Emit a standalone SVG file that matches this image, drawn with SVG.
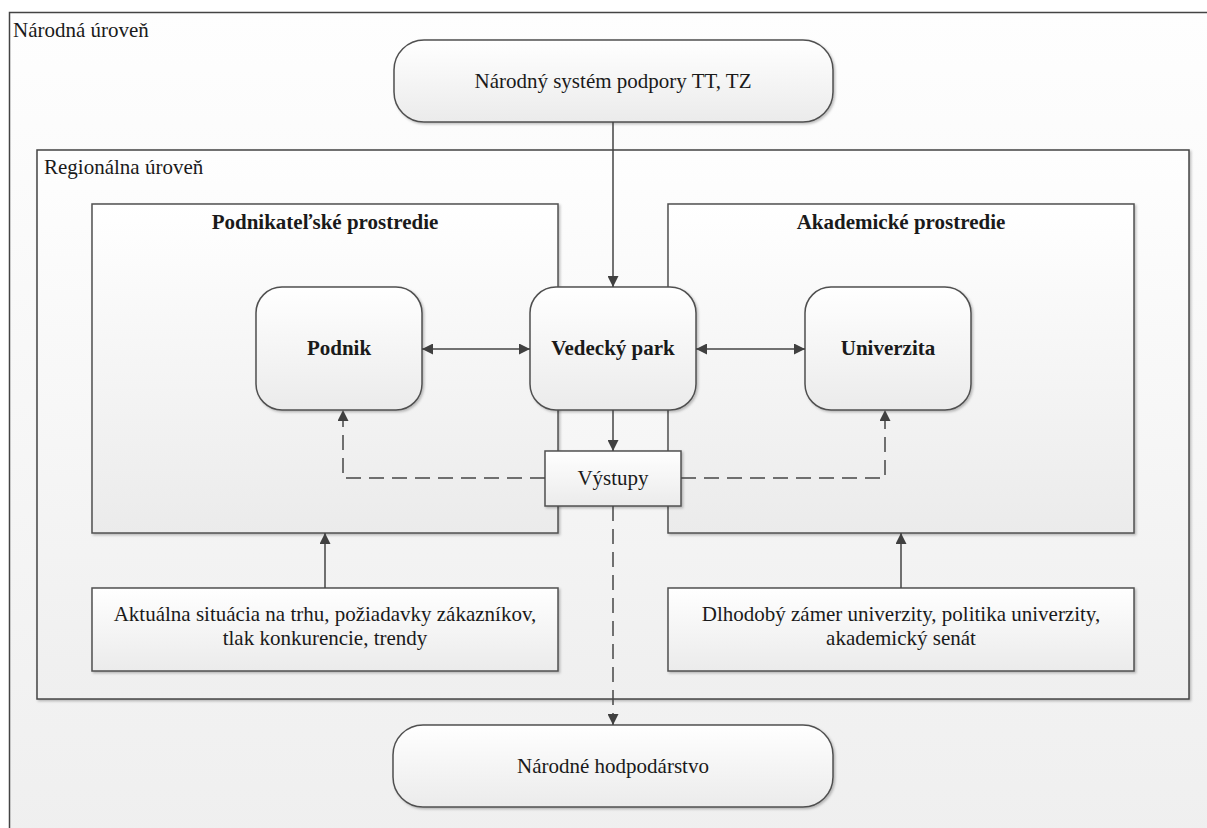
<svg xmlns="http://www.w3.org/2000/svg" width="1207" height="828" viewBox="0 0 1207 828">
  <defs>
    <linearGradient id="fillBox" x1="0" y1="0" x2="0" y2="1">
      <stop offset="0" stop-color="#ffffff"/>
      <stop offset="1" stop-color="#ebebeb"/>
    </linearGradient>
    <linearGradient id="fillArea" x1="0" y1="0" x2="0" y2="1">
      <stop offset="0" stop-color="#fefefe"/>
      <stop offset="1" stop-color="#efefef"/>
    </linearGradient>
    <filter id="shadow" x="-5%" y="-5%" width="110%" height="115%">
      <feDropShadow dx="1.5" dy="1.5" stdDeviation="1" flood-color="#000" flood-opacity="0.25"/>
    </filter>
    <marker id="arrow" viewBox="0 0 10 10" refX="10" refY="5" markerWidth="11" markerHeight="11" markerUnits="userSpaceOnUse" orient="auto-start-reverse">
      <path d="M0,0 L10,5 L0,10 z" fill="#404040"/>
    </marker>
  </defs>
  <style>
    .frame { fill: url(#fillArea); stroke: #444; stroke-width: 1.5; }
    .box { fill: url(#fillBox); stroke: #505050; stroke-width: 1.5; filter: url(#shadow); }
    .label { font-family: "Liberation Serif", "Times New Roman", serif; font-size: 21px; fill: #1a1a1a; }
    .bold { font-weight: bold; }
    .mid { text-anchor: middle; }
    .link { fill: none; stroke: #454545; stroke-width: 1.5; }
    .dash { stroke-dasharray: 15 8; }
  </style>

  <rect width="1207" height="828" fill="#ffffff"/>

  <!-- national level frame -->
  <g id="national">
    <rect class="frame" x="9.5" y="12.5" width="1215" height="830"/>
    <text class="label" x="13" y="37">Národná úroveň</text>
  </g>

  <!-- regional level frame -->
  <g id="regional">
    <rect class="frame" x="37" y="150" width="1152" height="549" filter="url(#shadow)"/>
    <text class="label" x="44" y="174">Regionálna úroveň</text>
  </g>

  <g id="business-env">
    <rect class="box" x="92" y="204" width="466" height="329"/>
    <text class="label bold mid" x="325" y="229">Podnikateľské prostredie</text>
  </g>

  <g id="academic-env">
    <rect class="box" x="668" y="204" width="466" height="329"/>
    <text class="label bold mid" x="901" y="229">Akademické prostredie</text>
  </g>

  <g id="national-support">
    <rect class="box" x="394" y="40" width="439" height="82" rx="30"/>
    <text class="label mid" x="613" y="88">Národný systém podpory TT, TZ</text>
  </g>

  <g id="podnik">
    <rect class="box" x="256" y="287" width="166" height="123" rx="26"/>
    <text class="label bold mid" x="339" y="355">Podnik</text>
  </g>

  <g id="vedecky-park">
    <rect class="box" x="530" y="287" width="166" height="123" rx="26"/>
    <text class="label bold mid" x="613" y="355">Vedecký park</text>
  </g>

  <g id="univerzita">
    <rect class="box" x="805" y="287" width="166" height="123" rx="26"/>
    <text class="label bold mid" x="888" y="355">Univerzita</text>
  </g>

  <g id="vystupy">
    <rect class="box" x="545" y="451" width="136" height="55"/>
    <text class="label mid" x="613" y="485">Výstupy</text>
  </g>

  <g id="market">
    <rect class="box" x="92" y="588" width="466" height="83"/>
    <text class="label mid" x="325" y="621">Aktuálna situácia na trhu, požiadavky zákazníkov,</text>
    <text class="label mid" x="325" y="645">tlak konkurencie, trendy</text>
  </g>

  <g id="university-policy">
    <rect class="box" x="668" y="588" width="466" height="83"/>
    <text class="label mid" x="901" y="621">Dlhodobý zámer univerzity, politika univerzity,</text>
    <text class="label mid" x="901" y="645">akademický senát</text>
  </g>

  <g id="economy">
    <rect class="box" x="393" y="725" width="440" height="82" rx="30"/>
    <text class="label mid" x="613" y="773">Národné hodpodárstvo</text>
  </g>

  <!-- connectors -->
  <g id="connectors">
    <path class="link" d="M613,122 V287" marker-end="url(#arrow)"/>
    <path class="link" d="M422,349 H530" marker-start="url(#arrow)" marker-end="url(#arrow)"/>
    <path class="link" d="M696,349 H805" marker-start="url(#arrow)" marker-end="url(#arrow)"/>
    <path class="link" d="M613,410 V451" marker-end="url(#arrow)"/>
    <path class="link dash" d="M545,478 H343 V410" marker-end="url(#arrow)"/>
    <path class="link dash" d="M681,478 H885 V410" marker-end="url(#arrow)"/>
    <path class="link dash" d="M613,506 V725" marker-end="url(#arrow)"/>
    <path class="link" d="M325,588 V533" marker-end="url(#arrow)"/>
    <path class="link" d="M901,588 V533" marker-end="url(#arrow)"/>
  </g>
</svg>
